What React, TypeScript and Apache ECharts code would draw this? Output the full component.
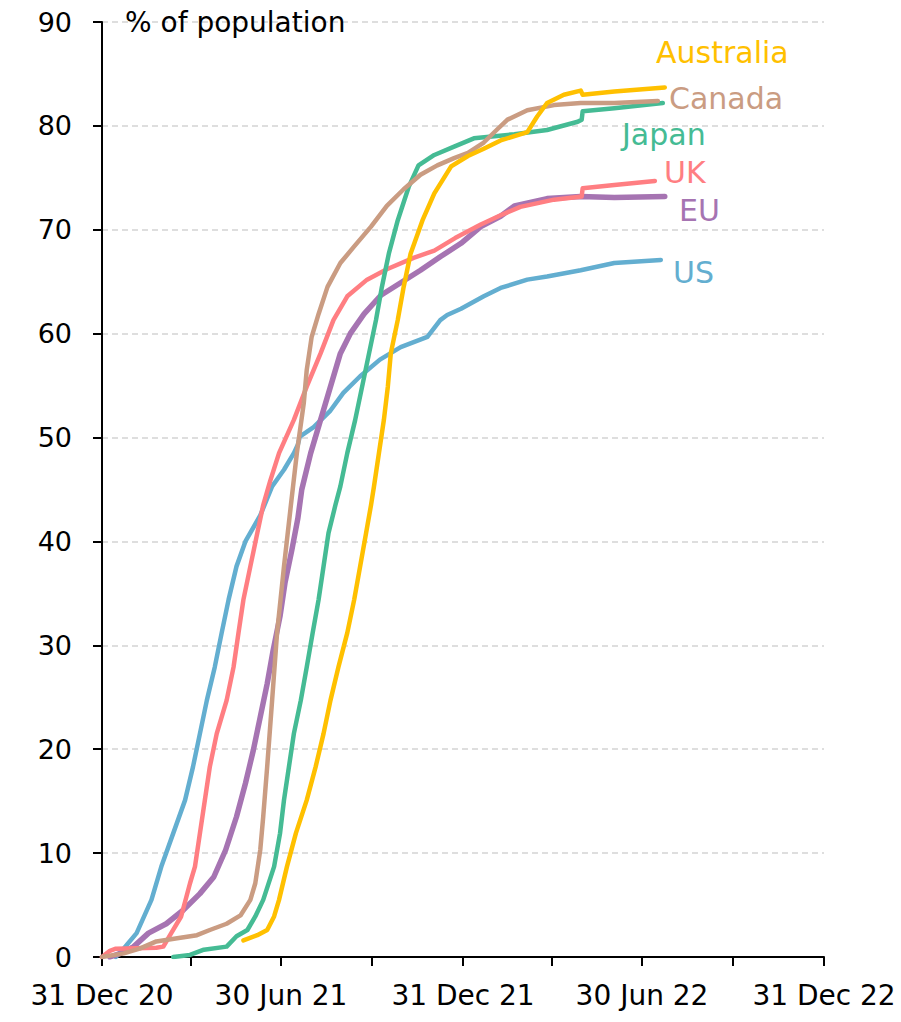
import React, { useEffect, useRef } from "react";
import * as echarts from "echarts";

const FONT = "'DejaVu Sans', sans-serif";

const quarterTicks = [
  "2020-12-31", "2021-03-31", "2021-06-30", "2021-09-30", "2021-12-31",
  "2022-03-31", "2022-06-30", "2022-09-30", "2022-12-31",
];
const labelTicks = ["2020-12-31", "2021-06-30", "2021-12-31", "2022-06-30", "2022-12-31"];
const labelTexts = ["31 Dec 20", "30 Jun 21", "31 Dec 21", "30 Jun 22", "31 Dec 22"];
const yTicks = [0, 10, 20, 30, 40, 50, 60, 70, 80, 90];

const usData: [string, number][] = [
  ["2021-01-14", 0], ["2021-01-21", 0.7], ["2021-02-04", 2.3], ["2021-02-19", 5.5],
  ["2021-03-01", 8.7], ["2021-03-13", 11.9], ["2021-03-25", 15.1], ["2021-04-02", 18.3],
  ["2021-04-09", 21.5], ["2021-04-16", 24.7], ["2021-04-24", 27.9], ["2021-05-01", 31.2],
  ["2021-05-08", 34.4], ["2021-05-16", 37.6], ["2021-05-25", 40.0], ["2021-06-09", 42.5],
  ["2021-06-21", 45.3], ["2021-07-03", 46.9], ["2021-07-13", 48.5], ["2021-07-17", 49.3],
  ["2021-07-19", 50.1], ["2021-08-02", 51.0], ["2021-08-19", 52.6], ["2021-09-01", 54.3],
  ["2021-09-18", 55.9], ["2021-10-08", 57.5], ["2021-10-29", 58.7], ["2021-11-25", 59.7],
  ["2021-12-08", 61.3], ["2021-12-15", 61.8], ["2021-12-29", 62.4], ["2022-01-21", 63.6],
  ["2022-02-07", 64.4], ["2022-03-06", 65.2], ["2022-03-26", 65.5], ["2022-04-29", 66.1],
  ["2022-06-02", 66.8], ["2022-07-19", 67.1],
];

const euData: [string, number][] = [
  ["2021-01-08", 0], ["2021-01-20", 0.4], ["2021-02-01", 1.0], ["2021-02-16", 2.3],
  ["2021-03-06", 3.2], ["2021-03-23", 4.5], ["2021-04-09", 6.1], ["2021-04-23", 7.7],
  ["2021-05-05", 10.3], ["2021-05-16", 13.5], ["2021-05-25", 16.7], ["2021-06-02", 19.9],
  ["2021-06-09", 23.1], ["2021-06-16", 26.3], ["2021-06-22", 29.5], ["2021-06-29", 32.8],
  ["2021-07-04", 36.0], ["2021-07-11", 39.2], ["2021-07-17", 42.2], ["2021-07-21", 45.0],
  ["2021-07-30", 48.5], ["2021-08-09", 51.7], ["2021-08-19", 54.9], ["2021-08-29", 58.1],
  ["2021-09-08", 60.0], ["2021-09-22", 61.9], ["2021-10-09", 63.7], ["2021-10-29", 64.9],
  ["2021-11-18", 66.1], ["2021-12-08", 67.4], ["2021-12-29", 68.7], ["2022-01-18", 70.3],
  ["2022-02-07", 71.3], ["2022-02-21", 72.3], ["2022-03-26", 73.0], ["2022-04-29", 73.2],
  ["2022-06-02", 73.1], ["2022-07-23", 73.2],
];

const ukData: [string, number][] = [
  ["2020-12-31", 0], ["2021-01-08", 0.6], ["2021-01-14", 0.8], ["2021-02-24", 0.9],
  ["2021-03-03", 1.0], ["2021-03-11", 2.3], ["2021-03-21", 3.9], ["2021-03-30", 7.1],
  ["2021-04-04", 8.7], ["2021-04-09", 11.9], ["2021-04-14", 15.1], ["2021-04-19", 18.3],
  ["2021-04-26", 21.5], ["2021-05-06", 24.7], ["2021-05-13", 27.9], ["2021-05-18", 31.2],
  ["2021-05-23", 34.4], ["2021-05-30", 37.6], ["2021-06-06", 40.8], ["2021-06-12", 43.5],
  ["2021-06-19", 45.8], ["2021-06-28", 48.5], ["2021-07-13", 51.7], ["2021-07-26", 54.9],
  ["2021-08-09", 58.1], ["2021-08-22", 61.3], ["2021-09-05", 63.6], ["2021-09-25", 65.2],
  ["2021-10-15", 66.2], ["2021-11-11", 67.3], ["2021-12-02", 68.0], ["2021-12-23", 69.2],
  ["2022-01-18", 70.5], ["2022-02-07", 71.4], ["2022-02-27", 72.2], ["2022-04-02", 72.9],
  ["2022-04-30", 73.2], ["2022-05-01", 74.0], ["2022-06-02", 74.3], ["2022-07-13", 74.7],
];

const japanData: [string, number][] = [
  ["2021-03-13", 0], ["2021-03-30", 0.2], ["2021-04-13", 0.7], ["2021-05-06", 1.0],
  ["2021-05-16", 2.0], ["2021-05-27", 2.6], ["2021-06-04", 3.9], ["2021-06-12", 5.5],
  ["2021-06-23", 8.7], ["2021-06-29", 11.9], ["2021-07-03", 15.1], ["2021-07-08", 18.3],
  ["2021-07-13", 21.5], ["2021-07-20", 24.7], ["2021-07-26", 27.9], ["2021-08-01", 31.2],
  ["2021-08-07", 34.4], ["2021-08-12", 37.6], ["2021-08-17", 40.8], ["2021-08-24", 43.5],
  ["2021-08-29", 45.3], ["2021-09-05", 48.5], ["2021-09-13", 51.7], ["2021-09-20", 54.9],
  ["2021-09-27", 58.1], ["2021-10-04", 61.3], ["2021-10-10", 64.5], ["2021-10-17", 67.7],
  ["2021-10-26", 70.9], ["2021-11-06", 74.1], ["2021-11-16", 76.2], ["2021-12-02", 77.2],
  ["2021-12-22", 78.0], ["2022-01-11", 78.8], ["2022-02-21", 79.2], ["2022-03-26", 79.6],
  ["2022-04-26", 80.4], ["2022-04-30", 80.6], ["2022-05-01", 81.4], ["2022-06-02", 81.7],
  ["2022-07-21", 82.2],
];

const canadaData: [string, number][] = [
  ["2020-12-31", 0], ["2021-01-22", 0.35], ["2021-02-07", 0.8], ["2021-02-24", 1.5],
  ["2021-03-17", 1.8], ["2021-04-06", 2.1], ["2021-04-19", 2.6], ["2021-05-06", 3.2],
  ["2021-05-20", 4.0], ["2021-05-30", 5.5], ["2021-06-04", 7.1], ["2021-06-09", 10.3],
  ["2021-06-12", 13.5], ["2021-06-16", 18.3], ["2021-06-21", 24.7], ["2021-06-26", 31.2],
  ["2021-07-03", 37.6], ["2021-07-10", 43.5], ["2021-07-16", 48.5], ["2021-07-23", 53.3],
  ["2021-07-26", 56.5], ["2021-07-31", 59.7], ["2021-08-07", 61.9], ["2021-08-16", 64.5],
  ["2021-08-29", 66.8], ["2021-09-12", 68.4], ["2021-09-29", 70.3], ["2021-10-15", 72.3],
  ["2021-11-01", 73.9], ["2021-11-18", 75.3], ["2021-12-05", 76.2], ["2021-12-22", 76.9],
  ["2022-01-05", 77.4], ["2022-01-21", 78.4], ["2022-02-04", 79.7], ["2022-02-14", 80.6],
  ["2022-03-06", 81.5], ["2022-04-02", 82.0], ["2022-04-29", 82.2], ["2022-06-02", 82.2],
  ["2022-07-16", 82.4],
];

const australiaData: [string, number][] = [
  ["2021-05-23", 1.6], ["2021-06-06", 2.1], ["2021-06-16", 2.6], ["2021-06-23", 3.9],
  ["2021-06-28", 5.5], ["2021-07-06", 8.7], ["2021-07-15", 11.9], ["2021-07-26", 15.1],
  ["2021-08-04", 18.3], ["2021-08-12", 21.5], ["2021-08-19", 24.7], ["2021-08-27", 27.9],
  ["2021-09-05", 31.2], ["2021-09-12", 34.4], ["2021-09-18", 37.6], ["2021-09-24", 40.8],
  ["2021-09-29", 43.5], ["2021-10-02", 45.3], ["2021-10-07", 48.5], ["2021-10-12", 51.7],
  ["2021-10-16", 54.9], ["2021-10-19", 58.1], ["2021-10-26", 61.3], ["2021-11-01", 64.5],
  ["2021-11-08", 67.7], ["2021-11-20", 70.9], ["2021-12-02", 73.5], ["2021-12-19", 76.1],
  ["2022-01-05", 77.1], ["2022-01-21", 77.8], ["2022-02-07", 78.6], ["2022-03-06", 79.4],
  ["2022-03-16", 80.9], ["2022-03-26", 82.2], ["2022-04-12", 83.0], ["2022-04-29", 83.4],
  ["2022-05-01", 83.0], ["2022-06-02", 83.3], ["2022-07-23", 83.7],
];

const seriesDefs = [
  { name: "US", data: usData, color: "#63AED0", width: 4.5, label: [673, 272] },
  { name: "EU", data: euData, color: "#A674B2", width: 5.5, label: [679, 210] },
  { name: "UK", data: ukData, color: "#FF7E82", width: 4.5, label: [664, 172] },
  { name: "Japan", data: japanData, color: "#45BB94", width: 4.5, label: [622, 134] },
  { name: "Canada", data: canadaData, color: "#CA9C82", width: 4.5, label: [669, 98] },
  { name: "Australia", data: australiaData, color: "#FFC000", width: 4.5, label: [656, 52] },
];

const toTs = (s: string) => {
  const [y, m, d] = s.split("-").map(Number);
  return Date.UTC(y, m - 1, d);
};

export default function App() {
  const ref = useRef<HTMLDivElement>(null);
  useEffect(() => {
    if (!ref.current) return;
    const chart = echarts.init(ref.current, null, { renderer: "svg" });
    const labelTs = labelTicks.map(toTs);
    const option: any = {
      animation: false,
      backgroundColor: "#ffffff",
      textStyle: { fontFamily: FONT },
      grid: { left: 102, right: 77, top: 22, bottom: 65, containLabel: false, outerBoundsMode: "none" },
      xAxis: {
        type: "value",
        min: toTs(quarterTicks[0]),
        max: toTs(quarterTicks[quarterTicks.length - 1]),
        axisLine: { show: true, onZero: false, lineStyle: { color: "#000", width: 2 } },
        axisTick: {
          show: true,
          length: 9,
          inside: false,
          customValues: quarterTicks.map(toTs),
          lineStyle: { color: "#000", width: 2 },
        },
        axisLabel: {
          customValues: labelTs,
          margin: 24,
          color: "#000",
          fontSize: 28,
          fontFamily: FONT,
          showMinLabel: true,
          showMaxLabel: true,
          formatter: (v: number) => {
            const i = labelTs.findIndex((t) => Math.abs(t - v) < 43200000);
            return i >= 0 ? labelTexts[i] : "";
          },
        },
        splitLine: { show: false },
      },
      yAxis: {
        type: "value",
        min: yTicks[0],
        max: yTicks[yTicks.length - 1],
        interval: 10,
        axisLine: { show: true, lineStyle: { color: "#000", width: 2 } },
        axisTick: { show: true, length: 9, inside: false, lineStyle: { color: "#000", width: 2 } },
        axisLabel: { margin: 30, color: "#000", fontSize: 27, fontFamily: FONT },
        splitLine: { show: true, lineStyle: { color: "#d4d4d4", width: 1.5, type: [6, 4] } },
      },
      graphic: [
        {
          type: "text",
          x: 125,
          y: 22,
          z: 10,
          style: {
            text: "% of population",
            fill: "#000",
            fontSize: 28,
            fontFamily: FONT,
            verticalAlign: "middle",
            align: "left",
          },
        },
        ...seriesDefs.map((s) => ({
          type: "text",
          x: s.label[0],
          y: s.label[1],
          z: 10,
          style: {
            text: s.name,
            fill: s.color,
            fontSize: 30,
            fontFamily: FONT,
            verticalAlign: "middle",
            align: "left",
          },
        })),
      ],
      series: seriesDefs.map((s) => ({
        name: s.name,
        type: "line",
        showSymbol: false,
        symbol: "none",
        smooth: false,
        lineStyle: { color: s.color, width: s.width, cap: "round", join: "round" },
        itemStyle: { color: s.color },
        data: s.data.map(([d, v]) => [toTs(d), v]),
      })),
    };
    chart.setOption(option);
    return () => chart.dispose();
  }, []);
  return (
    <div
      ref={ref}
      style={{ position: "fixed", left: 0, top: 0, width: 901, height: 1022, background: "#fff" }}
    />
  );
}
